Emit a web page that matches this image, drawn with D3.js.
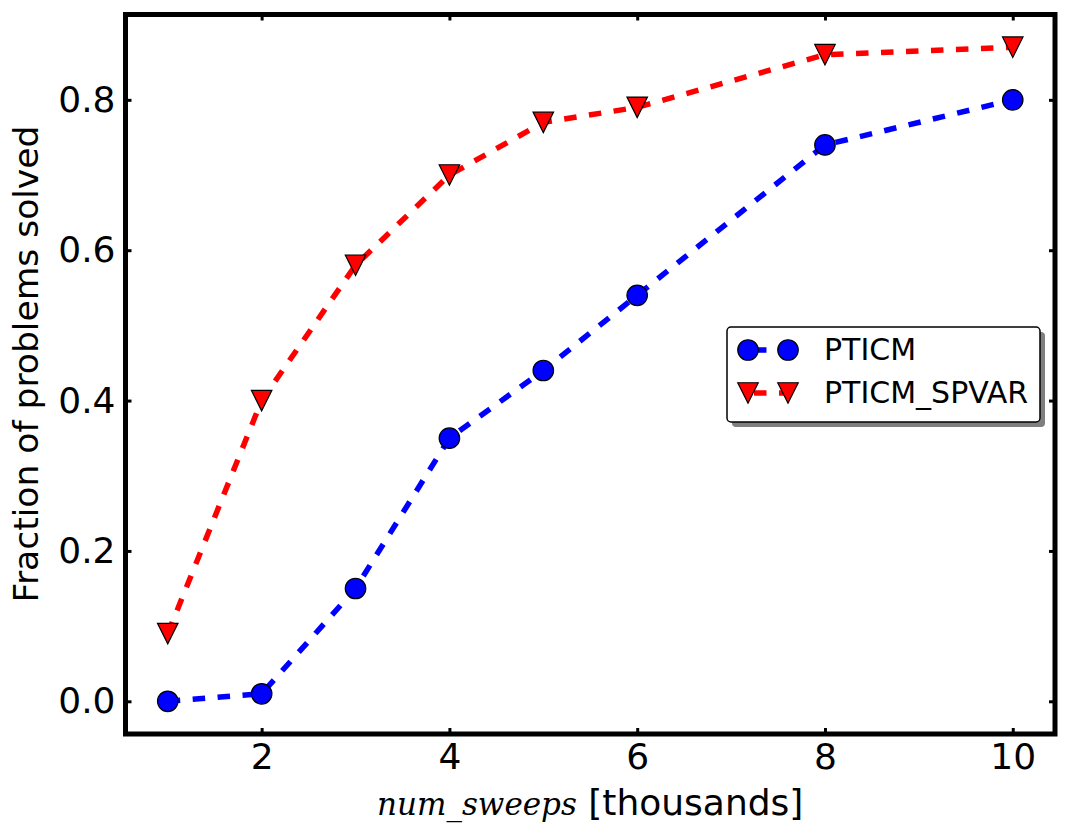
<!DOCTYPE html>
<html>
<head>
<meta charset="utf-8">
<script src="https://cdn.jsdelivr.net/npm/d3@7"></script>
<style>
  html, body { margin: 0; padding: 0; background: #ffffff; }
  svg { display: block; }
</style>
</head>
<body>
<svg id="chart" width="1069" height="840"></svg>
<script>
// ---- data ----
const sweeps = [1, 2, 3, 4, 5, 6, 8, 10];
const pticm = [0.00, 0.01, 0.15, 0.35, 0.44, 0.54, 0.74, 0.80];
const pticmSpvar = [0.09, 0.40, 0.58, 0.70, 0.77, 0.79, 0.86, 0.87];
const xTicks = [2, 4, 6, 8, 10];
const yTicks = [0.0, 0.2, 0.4, 0.6, 0.8];
const seriesNames = ["PTICM", "PTICM_SPVAR"];

// ---- layout ----
const W = 1069, H = 840;
const L = 125.5, R = 1055, T = 14.5, B = 734;
const svg = d3.select("#chart");

const x = d3.scaleLinear().domain([0.55, 10.45]).range([L, R]);
const y = d3.scaleLinear().domain([-0.0435, 0.9135]).range([B, T]);

const FONT = "'DejaVu Sans', sans-serif";
const tickLen = 6;

// axes (ticks inward on all sides)
const gx = svg.append("g").attr("transform", `translate(0,${B})`)
  .call(d3.axisBottom(x).tickValues(xTicks).tickSize(-tickLen).tickPadding(9).tickFormat(d3.format("d")));
const gxTop = svg.append("g").attr("transform", `translate(0,${T})`)
  .call(d3.axisTop(x).tickValues(xTicks).tickSize(-tickLen).tickFormat(""));
const gy = svg.append("g").attr("transform", `translate(${L},0)`)
  .call(d3.axisLeft(y).tickValues(yTicks).tickSize(-tickLen).tickPadding(10).tickFormat(d3.format(".1f")));
const gyR = svg.append("g").attr("transform", `translate(${R},0)`)
  .call(d3.axisRight(y).tickValues(yTicks).tickSize(-tickLen).tickFormat(""));

[gx, gxTop, gy, gyR].forEach(g => {
  g.select(".domain").remove();
  g.selectAll(".tick line").attr("stroke", "#000").attr("stroke-width", 3);
  g.selectAll(".tick text").attr("font-family", FONT).attr("font-size", 36).attr("fill", "#000");
});

// series
const seriesDefs = [
  { name: seriesNames[0], values: pticm, color: "#0000ff", marker: "circle" },
  { name: seriesNames[1], values: pticmSpvar, color: "#ff0000", marker: "tri" }
];

const line = d3.line().x(d => x(d[0])).y(d => y(d[1]));
const MS = 20.5;
const triPath = s => `M${-s/2},${-s/2}L${s/2},${-s/2}L0,${s/2}Z`;

seriesDefs.forEach(sd => {
  const pts = sweeps.map((s, i) => [s, sd.values[i]]);
  svg.append("path").datum(pts).attr("d", line)
    .attr("fill", "none").attr("stroke", sd.color).attr("stroke-width", 5.5)
    .attr("stroke-dasharray", "12.5,12.5");
});
seriesDefs.forEach(sd => {
  const pts = sweeps.map((s, i) => [s, sd.values[i]]);
  const g = svg.append("g");
  if (sd.marker === "circle") {
    g.selectAll("circle").data(pts).join("circle")
      .attr("cx", d => x(d[0])).attr("cy", d => y(d[1])).attr("r", MS/2)
      .attr("fill", sd.color).attr("stroke", "#000").attr("stroke-width", 1.2);
  } else {
    g.selectAll("path").data(pts).join("path")
      .attr("transform", d => `translate(${x(d[0])},${y(d[1])})`)
      .attr("d", triPath(MS))
      .attr("fill", sd.color).attr("stroke", "#000").attr("stroke-width", 1.2);
  }
});

// frame
svg.append("rect").attr("x", L).attr("y", T).attr("width", R - L).attr("height", B - T)
  .attr("fill", "none").attr("stroke", "#000").attr("stroke-width", 5);

// axis labels
svg.append("text")
  .attr("transform", `translate(38,364) rotate(-90)`)
  .attr("text-anchor", "middle").attr("font-family", FONT).attr("font-size", 34.5).attr("fill", "#000")
  .text("Fraction of problems solved");

const xl = svg.append("text").attr("x", (L + R) / 2).attr("y", 815)
  .attr("text-anchor", "middle").attr("font-size", 36).attr("fill", "#000");
xl.append("tspan").attr("font-family", "'DejaVu Serif', serif").attr("font-style", "italic").attr("font-size", 31).text("num_sweeps");
xl.append("tspan").attr("font-family", FONT).text(" [thousands]");

// legend
const lg = { x: 727, y: 327, w: 313, h: 95 };
svg.append("rect").attr("x", lg.x + 5).attr("y", lg.y + 5).attr("width", lg.w).attr("height", lg.h)
  .attr("rx", 4).attr("fill", "#7f7f7f");
svg.append("rect").attr("x", lg.x).attr("y", lg.y).attr("width", lg.w).attr("height", lg.h)
  .attr("rx", 4).attr("fill", "#fff").attr("stroke", "#000").attr("stroke-width", 1.5);

seriesDefs.forEach((sd, i) => {
  const cy = 350 + i * 43;
  const x0 = 748, x1 = 788;
  svg.append("line").attr("x1", x0).attr("x2", x1).attr("y1", cy).attr("y2", cy)
    .attr("stroke", sd.color).attr("stroke-width", 5.5).attr("stroke-dasharray", "12.5,12.5")
    .attr("stroke-dashoffset", -6);
  [x0, x1].forEach(mx => {
    if (sd.marker === "circle") {
      svg.append("circle").attr("cx", mx).attr("cy", cy).attr("r", MS/2)
        .attr("fill", sd.color).attr("stroke", "#000").attr("stroke-width", 1.2);
    } else {
      svg.append("path").attr("transform", `translate(${mx},${cy})`).attr("d", triPath(MS))
        .attr("fill", sd.color).attr("stroke", "#000").attr("stroke-width", 1.2);
    }
  });
  svg.append("text").attr("x", 824).attr("y", cy + 10)
    .attr("font-family", FONT).attr("font-size", 30).attr("fill", "#000").text(sd.name);
});
</script>
</body>
</html>
